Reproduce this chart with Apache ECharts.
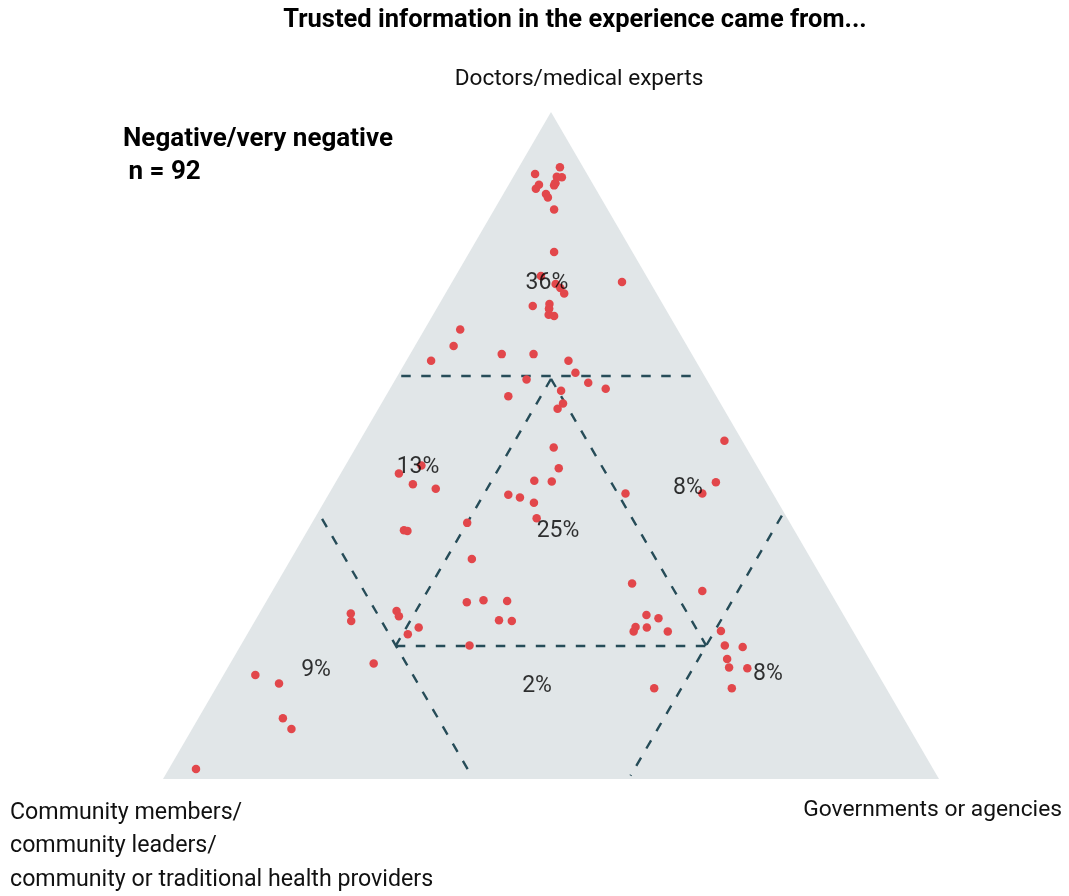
<!DOCTYPE html>
<html>
<head>
<meta charset="utf-8">
<script src="https://cdn.jsdelivr.net/npm/echarts@6/dist/echarts.min.js"></script>
<style>
html,body{margin:0;padding:0;background:#fff;}
#chart{width:1069px;height:896px;}
</style>
</head>
<body>
<div id="chart"></div>
<script>
// Ternary shares (%) per respondent: doctors (top), community (bottom-left), government (bottom-right)
const doctors = [91.7,90.7,90.2,90.3,89.3,89.0,89.1,88.5,87.7,87.2,85.4,79.0,75.4,74.2,73.6,72.8,74.5,70.9,71.2,70.5,69.6,69.4,
  67.4,64.9,62.7,63.7,63.7,62.7,60.9,59.9,59.4,58.5,58.2,57.4,56.3,55.5,
  45.8,47.0,44.2,43.5,37.3,37.2,
  49.7,46.6,44.7,44.6,42.6,42.2,41.4,39.1,38.4,33.0,26.5,26.8,26.7,23.8,23.7,20.0,
  42.8,29.3,24.6,24.1,22.8,22.1,22.7,22.1,
  50.7,44.5,42.8,28.2,
  22.2,20.0,19.8,18.0,16.7,16.6,13.6,13.6,
  25.2,24.4,22.7,21.7,24.8,23.7,17.3,15.6,14.3,9.1,7.5,1.5,
  89.3,70.5];
const government = [5.3,2.6,6.3,5.6,5.9,5.9,3.9,3.8,5.5,6.0,7.7,10.9,11.0,13.5,14.4,15.3,21.9,12.2,14.2,14.5,14.9,15.7,
  4.6,5.0,3.2,11.8,15.9,20.9,22.7,16.9,25.1,27.8,22.2,15.8,23.4,23.1,
  7.5,9.8,10.1,13.4,12.4,12.9,
  25.5,27.7,25.5,27.8,23.2,24.9,27.1,28.6,20.0,23.3,25.9,27.9,31.0,31.4,33.1,29.5,
  38.2,45.8,50.0,51.8,49.5,49.6,51.0,54.0,
  47.0,49.0,48.1,55.4,
  60.8,62.4,64.8,63.7,64.6,67.0,66.5,56.5,
  17.5,18.2,21.6,20.7,11.8,12.4,18.5,4.1,7.8,10.9,12.8,3.5,
  5.9,14.5];
const community = doctors.map((d, i) => +(100 - d - government[i]).toFixed(1));

// Zone shares (% of respondents)
const zoneLabels = ['36%','13%','8%','25%','9%','2%','8%'];
// Zone boundaries (ternary thresholds, %)
const outerCut = 60, innerCut = 20;

const title = 'Trusted information in the experience came from...';
const topLabel = 'Doctors/medical experts';
const leftLabel = 'Community members/\ncommunity leaders/\ncommunity or traditional health providers';
const rightLabel = 'Governments or agencies';
const groupLabel = 'Negative/very negative';
const nLabel = ' n = 92';

// ---- projection ternary -> cartesian (x: 0..1, y: 0..1 of triangle height)
function proj(a, b, c) {
  const s = a + b + c;
  return [(c + a / 2) / s, a / s];
}

// label anchor positions inside zones (layout, cartesian units)
const zoneLabelPos = [[0.4948,0.7436],[0.3286,0.4678],[0.6765,0.4363],[0.5090,0.3718],[0.1972,0.1634],[0.4820,0.1394],[0.7796,0.1574]];

const pts = doctors.map((d, i) => proj(d, community[i], government[i]));

const o = outerCut, n = innerCut, e = 0.5, e2 = 1.0;
const segs = [
  [[o + 0.4, 100 - o - 0.4 - e, e], [o + 0.4, e2 + 0.4, 100 - o - 0.8 - e2]],   // doctors = 60
  [[100 - o - e2, o, e2], [e, o, 100 - o - e]],                                 // community = 60
  [[100 - o - e, e, o], [e, 100 - o - e, o]],                                   // government = 60
  [[100 - 2 * n, n, n], [n, 100 - 2 * n, n]],                                   // inner: government = 20
  [[100 - 2 * n, n, n], [n, n, 100 - 2 * n]],                                   // inner: community = 20
  [[n, 100 - 2 * n, n], [n, n, 100 - 2 * n]]                                    // inner: doctors = 20
];

const chart = echarts.init(document.getElementById('chart'), null, {renderer: 'canvas'});
const font = 'Roboto, "Liberation Sans", sans-serif';
chart.setOption({
  animation: false,
  backgroundColor: '#ffffff',
  grid: {left: 163, top: 112, width: 776, height: 667},
  xAxis: {type: 'value', min: 0, max: 1, show: false},
  yAxis: {type: 'value', min: 0, max: 1, show: false},
  graphic: [
    {type: 'text', style: {text: title, x: 575, y: 21, textAlign: 'center', textVerticalAlign: 'middle', font: 'bold 25.5px ' + font, fill: '#000'}},
    {type: 'text', style: {text: topLabel, x: 579, y: 79, textAlign: 'center', textVerticalAlign: 'middle', font: '22.6px ' + font, fill: '#111'}},
    {type: 'text', style: {text: groupLabel, x: 123, y: 139, textAlign: 'left', textVerticalAlign: 'middle', font: 'bold 26px ' + font, fill: '#000'}},
    {type: 'text', style: {text: nLabel, x: 122, y: 172, textAlign: 'left', textVerticalAlign: 'middle', font: 'bold 26px ' + font, fill: '#000'}},
    {type: 'text', style: {text: leftLabel, x: 10, y: 796, textAlign: 'left', textVerticalAlign: 'top', font: '23.2px ' + font, lineHeight: 33.5, fill: '#111'}},
    {type: 'text', style: {text: rightLabel, x: 1062, y: 810, textAlign: 'right', textVerticalAlign: 'middle', font: '22.8px ' + font, fill: '#111'}}
  ],
  series: [
    {
      type: 'custom', silent: true, z: 1,
      data: [[0]],
      renderItem: function (params, api) {
        const p = [proj(0, 100, 0), proj(100, 0, 0), proj(0, 0, 100)].map(v => api.coord(v));
        return {type: 'polygon', shape: {points: p}, style: {fill: '#e1e6e8'}};
      }
    },
    {
      type: 'lines', coordinateSystem: 'cartesian2d', silent: true, z: 2,
      lineStyle: {color: '#264c58', width: 2.4, type: [9.5, 10.5], opacity: 1},
      data: segs.map(s => ({coords: [proj(...s[0]), proj(...s[1])]}))
    },
    {
      type: 'scatter', z: 3, silent: true,
      symbol: 'circle', symbolSize: 8.5,
      itemStyle: {color: '#e2474b', opacity: 1},
      data: pts
    },
    {
      type: 'scatter', z: 4, silent: true, symbolSize: 0,
      label: {show: true, position: 'inside', formatter: p => p.name, color: '#000', fontSize: 23, fontFamily: 'Roboto'},
      data: zoneLabels.map((t, i) => ({name: t, value: zoneLabelPos[i]}))
    }
  ]
});
</script>
</body>
</html>
